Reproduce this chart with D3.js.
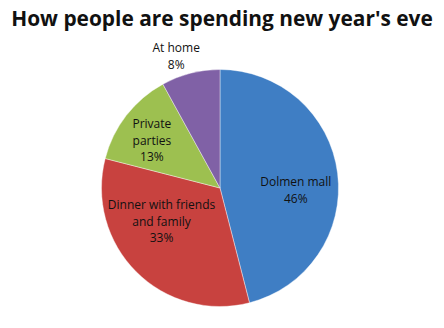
<!DOCTYPE html>
<html>
<head>
<meta charset="utf-8">
<script src="https://cdn.jsdelivr.net/npm/d3@7"></script>
<style>
  body { margin: 0; background: #fff; }
  svg { display: block; font-family: "Open Sans", "Liberation Sans", sans-serif; }
</style>
</head>
<body>
<div id="chart"></div>
<script>
// DATA
const categories = ["Dolmen mall", "Dinner with friends and family", "Private parties", "At home"];
const labelLines = [["Dolmen mall"], ["Dinner with friends", "and family"], ["Private", "parties"], ["At home"]];
const shares = [46, 33, 13, 8];
const colors = ["#3F7EC4", "#C8423F", "#9DC050", "#8061A6"];
const title = "How people are spending new year's eve";

// LAYOUT
const width = 444, height = 328;
const cx = 220, cy = 188, radius = 118.5;

const svg = d3.select("#chart").append("svg")
    .attr("width", width)
    .attr("height", height);

// TITLE - squeeze horizontally so it spans the same width as the original
const titleText = svg.append("text")
    .attr("text-anchor", "middle")
    .attr("font-size", "22px")
    .attr("font-weight", "bold")
    .attr("fill", "#111")
    .text(title);
const titleW = titleText.node().getComputedTextLength();
const sx = Math.min(1, 422 / titleW);
titleText.attr("transform", `translate(${width / 2},26) scale(${sx},1)`);

// PIE
const pie = d3.pie().sort(null).value(d => d);
const arcs = pie(shares);
const arc = d3.arc().innerRadius(0).outerRadius(radius);

const g = svg.append("g").attr("transform", `translate(${cx},${cy})`);

g.selectAll("path.slice")
    .data(arcs)
    .enter()
    .append("path")
    .attr("class", "slice")
    .attr("d", arc)
    .attr("fill", (d, i) => colors[i])
    .attr("stroke", "#fff")
    .attr("stroke-width", 0.4);

// LABELS: Excel "best fit" style, radius as fraction of pie radius, angle nudge in degrees
const labelFit = [
    { r: 0.64, turn: 9 },
    { r: 0.57, turn: 15 },
    { r: 0.70, turn: -3 },
    { r: 1.17, turn: -4 }
];
const lineH = 16.5;

arcs.forEach((d, i) => {
    const mid = (d.startAngle + d.endAngle) / 2 + labelFit[i].turn * Math.PI / 180;
    const r = radius * labelFit[i].r;
    const x = r * Math.sin(mid);
    const y = -r * Math.cos(mid);
    const lines = labelLines[i].concat([shares[i] + "%"]);
    const t = g.append("text")
        .attr("text-anchor", "middle")
        .attr("font-size", "12px")
        .attr("fill", "#111");
    lines.forEach((s, k) => {
        t.append("tspan")
            .attr("x", x)
            .attr("y", y + (k - (lines.length - 1) / 2) * lineH + 4)
            .text(s);
    });
});
</script>
</body>
</html>
